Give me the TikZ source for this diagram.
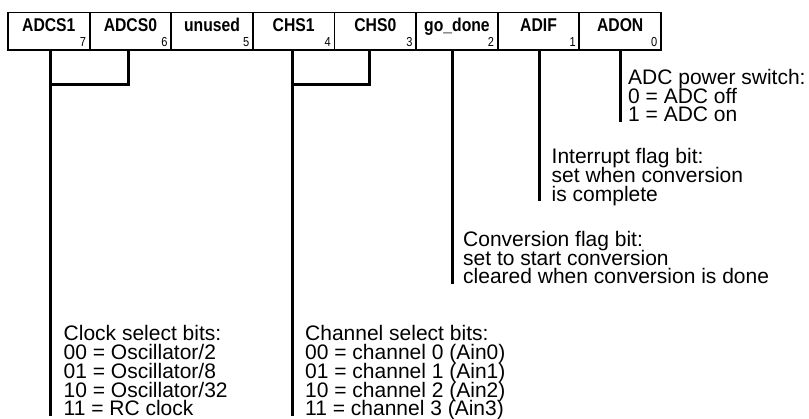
\documentclass[tikz,border=0pt]{standalone}
\usepackage{fontspec}
\usepackage{graphicx}
\setmainfont{Liberation Sans}
\newcommand{\desclines}[1]{\vbox{\baselineskip=18.8pt\lineskiplimit=-100pt\lineskip=0pt\halign{##\hfil\cr #1\crcr}}}
\newcommand{\narrowtxt}[1]{\scalebox{0.85}[1]{#1}}
\begin{document}
\begin{tikzpicture}[x=1pt,y=-1pt,
  cell/.style={draw, line width=1.8pt, minimum width=81.625pt, minimum height=37.5pt, inner sep=0pt},
  wire/.style={line width=3pt},
  lbl/.style={font=\bfseries\fontsize{18.5}{20}\selectfont, anchor=base, inner sep=0pt},
  bitno/.style={font=\fontsize{13}{13}\selectfont, anchor=base east, inner sep=0pt},
  desc/.style={font=\fontsize{21}{18.8}\selectfont, anchor=base west, inner sep=0pt}]
\useasboundingbox (0,0) rectangle (809,419);

% register cells
\node[cell] (b7) at (48.81,31.25) {};
\node[cell] (b6) at (130.44,31.25) {};
\node[cell] (b5) at (212.06,31.25) {};
\node[cell] (b4) at (293.69,31.25) {};
\node[cell] (b3) at (375.31,31.25) {};
\node[cell] (b2) at (456.94,31.25) {};
\node[cell] (b1) at (538.56,31.25) {};
\node[cell] (b0) at (620.19,31.25) {};

% labels
\node[lbl] (t7) at (48.81,31.7) {\narrowtxt{ADCS1}};
\node[lbl] (t6) at (130.44,31.7) {\narrowtxt{ADCS0}};
\node[lbl] (t5) at (212.06,31.7) {\narrowtxt{unused}};
\node[lbl] (t4) at (293.69,31.7) {\narrowtxt{CHS1}};
\node[lbl] (t3) at (375.31,31.7) {\narrowtxt{CHS0}};
\node[lbl] (t2) at (456.94,31.7) {\narrowtxt{go\_done}};
\node[lbl] (t1) at (538.56,31.7) {\narrowtxt{ADIF}};
\node[lbl] (t0) at (620.19,31.7) {\narrowtxt{ADON}};

% bit numbers
\node[bitno] (n7) at (86.1,46.7) {\narrowtxt{7}};
\node[bitno] (n6) at (167.7,46.7) {\narrowtxt{6}};
\node[bitno] (n5) at (249.4,46.7) {\narrowtxt{5}};
\node[bitno] (n4) at (331.0,46.7) {\narrowtxt{4}};
\node[bitno] (n3) at (412.6,46.7) {\narrowtxt{3}};
\node[bitno] (n2) at (494.2,46.7) {\narrowtxt{2}};
\node[bitno] (n1) at (575.9,46.7) {\narrowtxt{1}};
\node[bitno] (n0) at (657.5,46.7) {\narrowtxt{0}};

% descriptions
\node[desc] (don) at (628,122) {\desclines{ADC power switch:\cr 0 = ADC off\cr 1 = ADC on}};
\node[desc] (dif) at (551.5,201.5) {\desclines{Interrupt flag bit:\cr set when conversion\cr is complete}};
\node[desc] (dgo) at (463,284) {\desclines{Conversion flag bit:\cr set to start conversion\cr cleared when conversion is done}};
\node[desc] (dclk) at (63.5,416) {\desclines{Clock select bits:\cr 00 = Oscillator/2\cr 01 = Oscillator/8\cr 10 = Oscillator/32\cr 11 = RC clock}};
\node[desc] (dch) at (305,416) {\desclines{Channel select bits:\cr 00 = channel 0 (Ain0)\cr 01 = channel 1 (Ain1)\cr 10 = channel 2 (Ain2)\cr 11 = channel 3 (Ain3)}};

% wire start points
\coordinate (w7) at (50,50);
\coordinate (w6) at (128,50);
\coordinate (w4) at (292.5,50);
\coordinate (w3) at (369,50);
\coordinate (w2) at (452,50);
\coordinate (w1) at (539,50);
\coordinate (w0) at (620,50);
\coordinate (j7) at (50,85);
\coordinate (j4) at (292.5,85);

% wires
\draw[wire] (w7) -- (w7 |- dclk.base west);
\draw[wire] (w6) |- (j7);
\draw[wire] (w4) -- (w4 |- dch.base west);
\draw[wire] (w3) |- (j4);
\draw[wire] (w2) -- (w2 |- dgo.base west);
\draw[wire] (w1) -- (w1 |- dif.base west);
\draw[wire] (w0) -- (w0 |- don.base west);
\end{tikzpicture}
\end{document}
